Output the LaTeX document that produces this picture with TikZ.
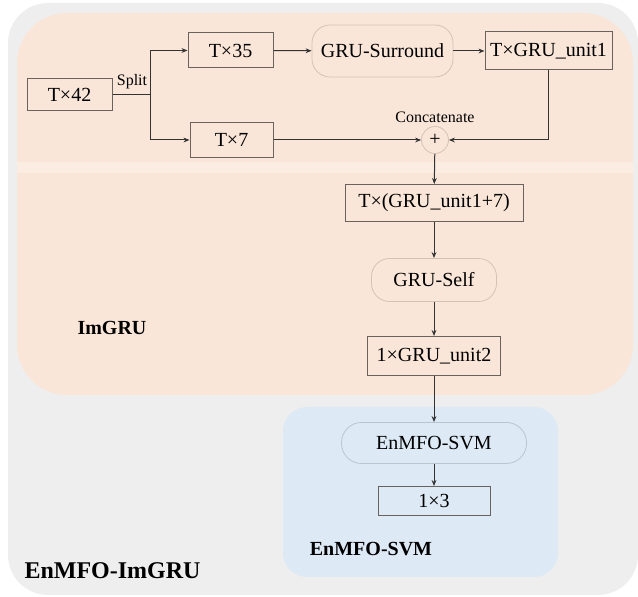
\documentclass[tikz,border=0pt]{standalone}
\usepackage{fontspec}
\setmainfont{Liberation Serif}
\usepackage{tikz}
\usetikzlibrary{arrows.meta}

\begin{document}
\begin{tikzpicture}[x=0.5pt, y=-0.5pt,
  box/.style={draw=boxGray, line width=0.5pt, inner sep=0pt, font=\fontsize{10}{12}\selectfont},
  rbox/.style={draw=roundGray, line width=0.4pt, rounded corners=9pt, inner sep=0pt, font=\fontsize{10}{12}\selectfont},
  freccia/.style={draw=lineDark, line width=0.5pt, -{Stealth[length=3pt,width=2.4pt]}},
  linea/.style={draw=lineDark, line width=0.5pt},
  titolo/.style={font=\bfseries\fontsize{10}{12}\selectfont}]

% Colori
\definecolor{colOuter}{HTML}{EEEEEE}
\definecolor{colPeach}{HTML}{FAE6D8}
\definecolor{colStrip}{HTML}{FCEDE2}
\definecolor{colBlue}{HTML}{DDE9F5}
\definecolor{boxGray}{HTML}{6A625C}
\definecolor{roundGray}{HTML}{D6C2B4}
\definecolor{roundBlue}{HTML}{B9C5D1}
\definecolor{lineDark}{HTML}{333333}

\useasboundingbox (0,0) rectangle (638,597);

% Sfondi
\fill[colOuter, rounded corners=20pt] (8,3) rectangle (638,595);
\fill[colPeach, rounded corners=25pt] (17,13) rectangle (633,395);
\fill[colStrip] (17,162) rectangle (633,173);
\fill[colBlue, rounded corners=12pt] (283,407) rectangle (558,577);

% Blocchi ImGRU
\node[box, minimum width=42.5pt, minimum height=16pt] (t42) at (69.5,95) {T×42};
\node[box, minimum width=42.5pt, minimum height=17.5pt] (t35) at (230.5,50.5) {T×35};
\node[box, minimum width=41.5pt, minimum height=17.5pt] (t7) at (231.5,140) {T×7};
\node[rbox, minimum width=70.5pt, minimum height=26pt] (surround) at (382.5,51) {GRU-Surround};
\node[box, minimum width=63.5pt, minimum height=19pt] (unit1) at (548.5,51) {T×GRU\_unit1};
\node[circle, draw=roundGray, line width=0.4pt, minimum size=13.5pt, inner sep=0pt, font=\fontsize{10}{12}\selectfont] (plus) at (435,140) {+};
\node[font=\fontsize{8}{10}\selectfont] (concat) at (435,117) {Concatenate};
\node[box, minimum width=89pt, minimum height=18.5pt] (cat) at (434,203) {T×(GRU\_unit1+7)};
\node[rbox, minimum width=62.5pt, minimum height=21.5pt] (self) at (434,280) {GRU-Self};
\node[box, minimum width=66.5pt, minimum height=19.5pt] (unit2) at (434,356) {1×GRU\_unit2};

% Blocchi EnMFO-SVM
\node[rbox, draw=roundBlue, rounded corners=10pt, minimum width=92.5pt, minimum height=20.5pt] (svm) at (434,443) {EnMFO-SVM};
\node[box, minimum width=56pt, minimum height=14.5pt] (out) at (434,501) {1×3};

% Etichette dei gruppi
\node[titolo] (lblImGRU) at (112,328) {ImGRU};
\node[titolo] (lblSVM) at (371,549) {EnMFO-SVM};
\node[font=\bfseries\fontsize{12}{14}\selectfont] (lblAll) at (112.5,571) {EnMFO-ImGRU};

% Split
\coordinate (split) at (150,95);
\draw[linea] (t42.east) -- (split);
\node[font=\fontsize{8}{10}\selectfont] (lblSplit) at (132,82) {Split};
\draw[freccia] (split) |- (t35.west);
\draw[freccia] (split) |- (t7.west);

% Collegamenti
\draw[freccia] (t35) -- (surround);
\draw[freccia] (surround) -- (unit1);
\draw[freccia] (t7.east) -- (plus.west);
\draw[freccia] (unit1.south) |- (plus.east);
\draw[freccia] (plus) -- (cat);
\draw[freccia] (cat) -- (self);
\draw[freccia] (self) -- (unit2);
\draw[freccia] (unit2) -- (svm);
\draw[freccia] (svm) -- (out);

\end{tikzpicture}
\end{document}
